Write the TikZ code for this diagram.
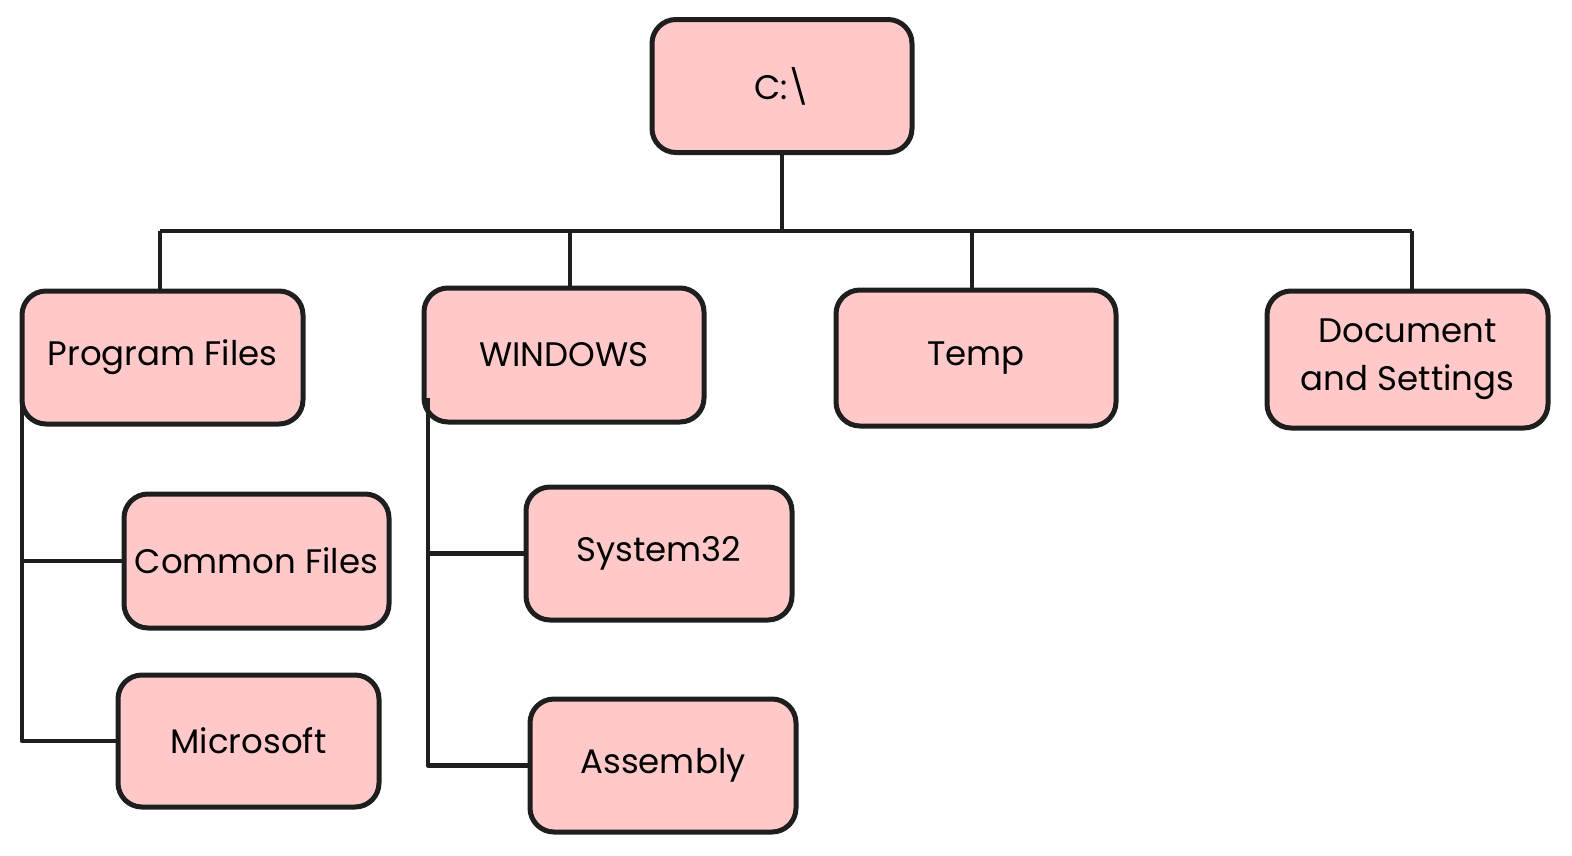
\documentclass[tikz,border=0pt]{standalone}
\usepackage{fontspec}
\setmainfont{Poppins}
\definecolor{boxfill}{HTML}{FFC9C9}
\definecolor{ink}{HTML}{1E1E1E}
\begin{document}
\begin{tikzpicture}[x=1pt,y=-1pt,
  box/.style={draw=ink,fill=boxfill,line width=5pt,rounded corners=24pt,
    inner sep=0pt,align=center,font=\fontsize{34}{48}\selectfont},
  wire/.style={draw=ink,line width=4.5pt,line join=round}]
\useasboundingbox (0,0) rectangle (1572,855);
% nodes: name, center, size
\node[box,minimum width=260pt,minimum height=133pt] (root) at (782,86) {C:\textbackslash};
\node[box,minimum width=281pt,minimum height=133pt] (pf) at (162.5,357.5) {Program Files};
\node[box,minimum width=280pt,minimum height=134pt] (win) at (564,355) {WINDOWS};
\node[box,minimum width=280pt,minimum height=136pt] (temp) at (976,358) {Temp};
\node[box,minimum width=281pt,minimum height=137pt] (doc) at (1407.5,359.5) {Document\\and Settings};
\node[box,minimum width=265pt,minimum height=134pt] (cf) at (256.5,561) {Common Files};
\node[box,minimum width=266pt,minimum height=133pt] (sys) at (659,553.5) {System32};
\node[box,minimum width=261pt,minimum height=132pt] (ms) at (248.5,741) {Microsoft};
\node[box,minimum width=266pt,minimum height=133pt] (asm) at (663,765.5) {Assembly};
% bus
\coordinate (busL) at (160,231);
\coordinate (busR) at (1412,231);
\draw[wire] (root.south) -- (root.south |- busL);
\draw[wire] (busL) -- (busR);
\draw[wire] (busL) -- (busL |- pf.north);
\draw[wire] (win.north -| 570,0) -- (570,231);
\draw[wire] (temp.north -| 972,0) -- (972,231);
\draw[wire] (busR) -- (busR |- doc.north);
% Program Files subtree
\coordinate (pft) at (22,380);
\draw[wire] (pft) -- (pft |- ms.west) -- (ms.west);
\draw[wire] (pft |- cf.west) -- (cf.west);
% WINDOWS subtree
\coordinate (wt) at (428,398);
\draw[wire] (wt) -- (wt |- asm.west) -- (asm.west);
\draw[wire] (wt |- sys.west) -- (sys.west);
\end{tikzpicture}
\end{document}
